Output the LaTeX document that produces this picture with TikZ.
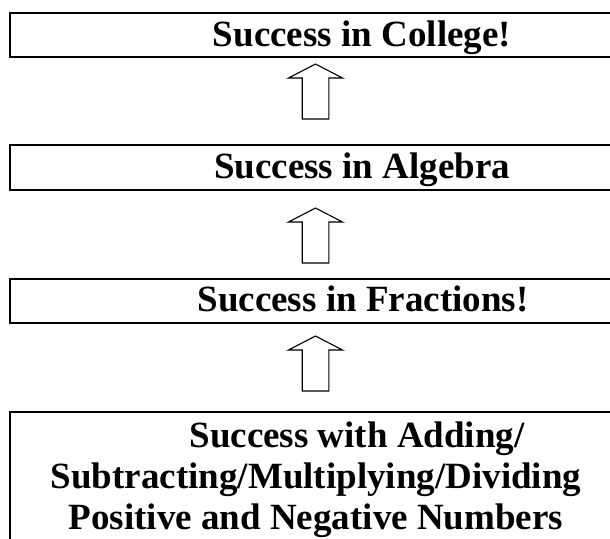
\documentclass[tikz,border=0pt]{standalone}
\usepackage{fontspec}
\setmainfont{Liberation Serif}
\usetikzlibrary{calc}

\begin{document}
\begin{tikzpicture}[
  x=1pt,y=-1pt,
  every node/.style={font=\bfseries\fontsize{37}{41}\selectfont},
  stage/.style={draw,line width=2pt,anchor=north west,minimum width=700pt,inner sep=0pt},
  lbl/.style={anchor=base,inner sep=0pt},
  uparr/.pic={\draw[line width=1.1pt] (-13.3,0) -- (13.3,0) -- (13.3,-41) -- (27,-41) -- (0,-55) -- (-27,-41) -- (-13.3,-41) -- cycle;}
]
\useasboundingbox (0,0) rectangle (610,538);
\clip (0,0) rectangle (610,538);

% the four steps, widest at the bottom
\node[stage,minimum height=44pt] (college) at (9,12) {};
\node[stage,minimum height=45pt] (algebra) at (9,144) {};
\node[stage,minimum height=44pt] (fractions) at (9,278) {};
\node[stage,minimum height=200pt] (signed) at (9,411) {};

\node[lbl] (tcollege) at (362,46) {Success in College!};
\node[lbl] (talgebra) at (362,178) {Success in Algebra};
\node[lbl] (tfractions) at (363,311) {Success in Fractions!};
\node[anchor=north,inner sep=0pt,align=center] (tsigned) at (316,422)
  {\hspace*{82pt}Success with Adding/\\ Subtracting/Multiplying/Dividing\\ Positive and Negative Numbers};

% block arrows going up
\coordinate (mid) at (315.5,0);
\pic at ($(mid |- algebra.north)+(0,-25)$) {uparr};
\pic at ($(mid |- fractions.north)+(0,-15)$) {uparr};
\pic at ($(mid |- signed.north)+(0,-20)$) {uparr};
\end{tikzpicture}
\end{document}
